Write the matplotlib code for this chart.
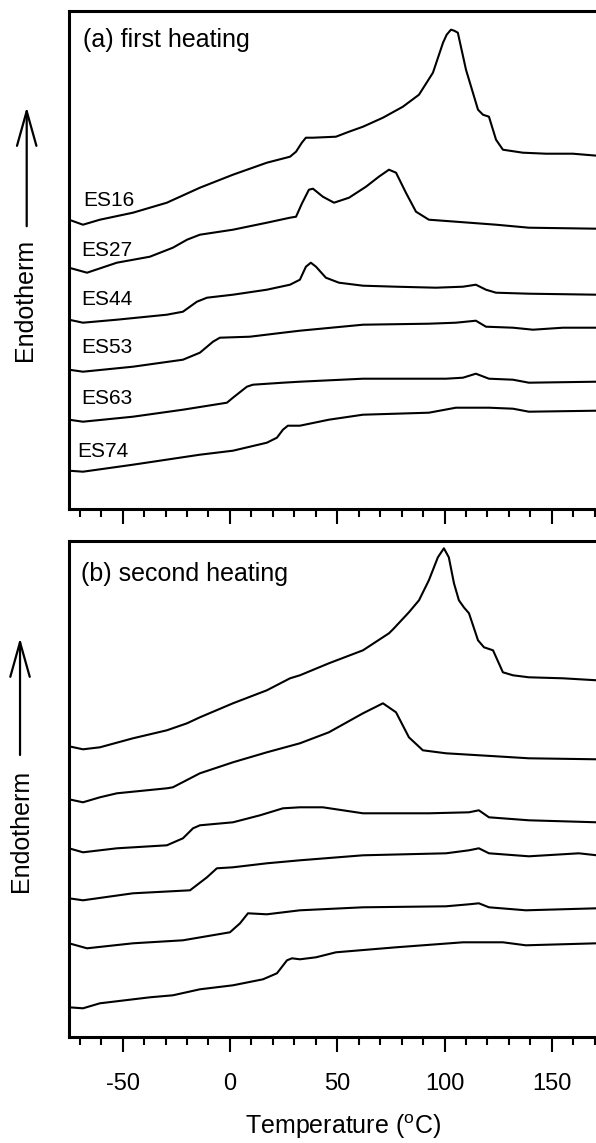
import matplotlib
matplotlib.use('Agg')
import matplotlib.pyplot as plt
from matplotlib.ticker import MultipleLocator

plt.rcParams['font.family'] = ['Liberation Sans', 'DejaVu Sans']
plt.rcParams['mathtext.default'] = 'regular'
plt.rcParams['axes.unicode_minus'] = False

samples = ['ES16', 'ES27', 'ES44', 'ES53', 'ES63', 'ES74']
panel_titles = ['(a) first heating', '(b) second heating']
xlabel = 'Temperature ($^{o}$C)'
ylabel = 'Endotherm'

# ---------------- (a) first heating : temperature (C) / heat flow (a.u., offset) ----
T_a_ES16 = [-75.0, -68.5, -60.6, -45.2, -29.4, -14.0, 1.4, 17.2, 28.0, 30.8, 33.5, 35.4, 38.7, 49.4,
            55.5, 62.0, 71.3, 80.6, 88.1, 94.6, 99.3, 101.0, 103.0, 104.5, 106.2, 110.0, 115.6,
            117.9, 120.7, 124.0, 127.2, 136.5, 147.3, 159.8, 171.0]
H_a_ES16 = [289, 284, 289, 296, 306, 321, 334, 346, 352, 357, 366, 371, 371, 372,
            377, 382, 391, 402, 414, 436, 466, 474, 479, 478, 476, 439, 399,
            394, 392, 369, 359, 356, 355, 355, 353]

T_a_ES27 = [-75.0, -66.6, -52.7, -37.3, -26.6, -20.0, -14.0, 1.4, 17.2, 28.0, 30.8, 33.5, 36.8, 38.7,
            43.3, 48.5, 55.5, 63.4, 69.4, 74.1, 77.4, 82.0, 86.7, 92.7, 105.3, 124.0, 139.3, 171.0]
H_a_ES27 = [241, 236, 246, 252, 261, 269, 274, 279, 286, 291, 292, 305, 319, 320,
            312, 306, 311, 322, 332, 339, 336, 316, 297, 289, 287, 284, 281, 280]

T_a_ES44 = [-75.0, -68.5, -52.7, -29.4, -21.9, -15.4, -10.7, 1.4, 17.2, 28.0, 32.6, 35.4, 37.7, 40.1,
            44.7, 50.8, 62.0, 77.4, 96.0, 108.6, 114.6, 119.3, 124.0, 139.3, 171.0]
H_a_ES44 = [189, 186, 189, 194, 197, 207, 211, 214, 219, 224, 229, 242, 246, 242,
            231, 226, 223, 222, 221, 222, 224, 219, 216, 215, 214]

T_a_ES53 = [-75.0, -68.5, -45.2, -21.9, -14.0, -7.9, -4.7, 9.3, 24.7, 32.6, 62.0, 92.7, 105.3, 110.0,
            114.6, 119.3, 131.9, 141.2, 155.2, 171.0]
H_a_ES53 = [139, 137, 142, 149, 156, 167, 171, 172, 176, 178, 184, 185, 186, 187,
            188, 182, 181, 179, 181, 181]

T_a_ES63 = [-75.0, -68.5, -45.2, -21.9, -1.4, 1.4, 7.9, 10.7, 24.7, 32.6, 62.0, 100.7, 108.6, 114.6,
            120.7, 131.9, 139.3, 171.0]
H_a_ES63 = [89, 87, 92, 99, 106, 111, 122, 124, 126, 127, 130, 130, 131, 135,
            130, 129, 126, 127]

T_a_ES74 = [-75.0, -68.5, -45.2, -14.0, 1.4, 17.2, 21.9, 24.7, 27.0, 32.6, 46.1, 62.0, 92.7, 105.3,
            120.7, 131.9, 139.3, 171.0]
H_a_ES74 = [38, 37, 44, 54, 58, 66, 71, 79, 83, 83, 89, 94, 96, 101,
            101, 100, 97, 98]

# ---------------- (b) second heating ----------------
T_b_ES16 = [-75.0, -68.5, -60.6, -45.2, -29.4, -20.0, -14.0, 1.4, 17.2, 28.0, 32.6, 46.1, 62.0, 74.1,
            76.0, 83.4, 88.1, 92.7, 96.9, 99.7, 102.0, 104.4, 106.7, 109.0, 111.4, 115.6, 118.4,
            122.6, 127.2, 131.9, 139.3, 155.2, 171.0]
H_b_ES16 = [291, 288, 290, 299, 307, 314, 320, 334, 347, 359, 362, 374, 387, 404,
            408, 425, 437, 457, 480, 489, 480, 454, 437, 430, 424, 397, 390,
            387, 365, 362, 360, 359, 357]

T_b_ES27 = [-75.0, -68.5, -60.6, -52.7, -29.4, -26.6, -14.0, 1.4, 17.2, 32.6, 46.1, 62.0, 71.3, 77.4,
            83.4, 89.9, 100.7, 124.0, 139.3, 171.0]
H_b_ES27 = [238, 235, 240, 244, 249, 250, 264, 275, 285, 294, 305, 324, 334, 325,
            300, 287, 284, 281, 279, 278]

T_b_ES44 = [-75.0, -68.5, -52.7, -29.4, -21.9, -17.2, -14.0, 1.4, 14.0, 24.7, 32.6, 43.3, 62.0, 92.7,
            111.4, 116.0, 120.7, 139.3, 171.0]
H_b_ES44 = [189, 185, 189, 192, 199, 209, 212, 215, 222, 229, 230, 230, 224, 224,
            225, 227, 220, 217, 215]

T_b_ES53 = [-75.0, -68.5, -45.2, -18.6, -10.7, -6.1, 1.4, 17.2, 32.6, 62.0, 100.7, 111.4, 116.0,
            120.7, 139.3, 162.6, 171.0]
H_b_ES53 = [139, 137, 144, 147, 160, 169, 170, 174, 177, 182, 184, 187, 189,
            184, 181, 184, 182]

T_b_ES63 = [-75.0, -66.6, -45.2, -21.9, 0.0, 4.7, 8.4, 17.2, 32.6, 62.0, 100.7, 111.4, 116.0,
            120.7, 137.9, 171.0]
H_b_ES63 = [94, 89, 94, 97, 105, 114, 124, 123, 127, 130, 131, 133, 134,
            130, 127, 129]

T_b_ES74 = [-75.0, -68.5, -60.6, -37.3, -26.6, -14.0, 1.4, 15.4, 21.9, 26.6, 28.9, 32.6, 40.1, 49.4,
            77.4, 108.6, 127.2, 137.9, 171.0]
H_b_ES74 = [30, 29, 34, 40, 42, 48, 52, 58, 64, 77, 79, 78, 80, 85,
            90, 95, 95, 92, 94]

curves_a = [(T_a_ES16, H_a_ES16), (T_a_ES27, H_a_ES27), (T_a_ES44, H_a_ES44),
            (T_a_ES53, H_a_ES53), (T_a_ES63, H_a_ES63), (T_a_ES74, H_a_ES74)]
curves_b = [(T_b_ES16, H_b_ES16), (T_b_ES27, H_b_ES27), (T_b_ES44, H_b_ES44),
            (T_b_ES53, H_b_ES53), (T_b_ES63, H_b_ES63), (T_b_ES74, H_b_ES74)]

# label anchor positions (data coords of panel a)
label_pos = [(-68.5, 303), (-69.5, 253), (-69.5, 204), (-69.5, 156), (-69.5, 105), (-71.0, 52)]

fig = plt.figure(figsize=(5.96, 11.43), dpi=100)
W = 547.2 / 596
ax_a = fig.add_axes([69 / 596, 634.3 / 1143, W, 498.2 / 1143])
ax_b = fig.add_axes([69 / 596, 105.7 / 1143, W, 496.3 / 1143])

for ax, curves, ymax in [(ax_a, curves_a, 498.2), (ax_b, curves_b, 496.3)]:
    for T, H in curves:
        ax.plot(T, H, color='black', lw=1.5, solid_joinstyle='round')
    ax.set_xlim(-75, 180)
    ax.set_ylim(0, ymax)
    ax.set_yticks([])
    ax.xaxis.set_major_locator(MultipleLocator(50))
    ax.xaxis.set_minor_locator(MultipleLocator(10))
    ax.tick_params(axis='x', which='major', direction='out', length=11, width=1.5,
                   labelsize=17, pad=15)
    ax.tick_params(axis='x', which='minor', direction='out', length=5.8, width=1.5)
    for s in ax.spines.values():
        s.set_linewidth(2.2)

ax_a.tick_params(axis='x', which='both', labelbottom=False)
ax_b.set_xlabel(xlabel, fontsize=18, labelpad=12)

ax_a.text(0.0256, 0.926, panel_titles[0], transform=ax_a.transAxes, fontsize=18,
          ha='left', va='baseline')
ax_b.text(0.0211, 0.919, panel_titles[1], transform=ax_b.transAxes, fontsize=18,
          ha='left', va='baseline')

for name, (x, y) in zip(samples, label_pos):
    ax_a.text(x, y, name, fontsize=15, ha='left', va='baseline')

# Endotherm labels with arrows
for ax, xa, tip, tail, xt, yt in [(ax_a, -0.0773, 0.8063, 0.567, -0.080, 0.42),
                                  (ax_b, -0.0895, 0.8046, 0.5688, -0.0877, 0.4167)]:
    ax.text(xt, yt, ylabel, transform=ax.transAxes, rotation=90, fontsize=18,
            ha='center', va='center')
    ax.annotate('', xy=(xa, tip), xytext=(xa, tail), xycoords='axes fraction',
                textcoords='axes fraction', annotation_clip=False,
                arrowprops=dict(arrowstyle='->,head_length=2.5,head_width=0.7',
                                lw=1.6, mutation_scale=10, shrinkA=0, shrinkB=0,
                                color='black'))

fig.savefig('out.png', dpi=100)
